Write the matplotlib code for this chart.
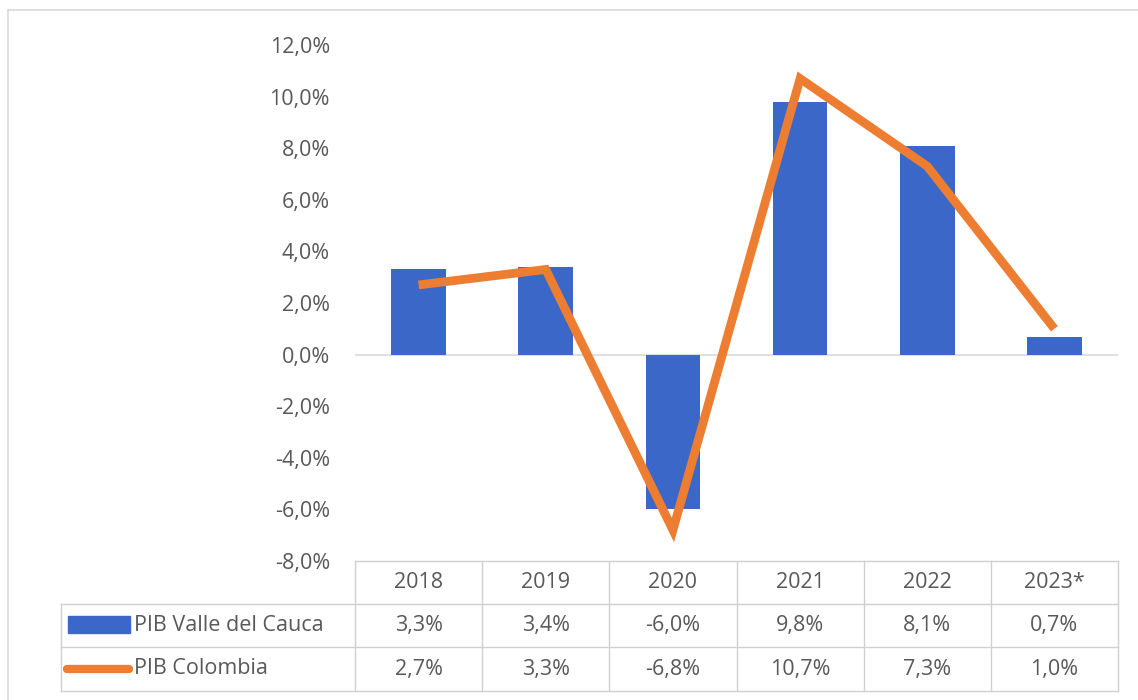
import matplotlib
matplotlib.use("Agg")
import matplotlib.pyplot as plt
import numpy as np
from matplotlib.lines import Line2D
from matplotlib.patches import Rectangle

years = ["2018", "2019", "2020", "2021", "2022", "2023*"]
valle = [3.3, 3.4, -6.0, 9.8, 8.1, 0.7]
colombia = [2.7, 3.3, -6.8, 10.7, 7.3, 1.0]
series_names = ["PIB Valle del Cauca", "PIB Colombia"]
yticks = [-8, -6, -4, -2, 0, 2, 4, 6, 8, 10, 12]

W, H = 1138, 700
fig = plt.figure(figsize=(W / 100, H / 100), dpi=100)
fig.patch.set_facecolor("white")

def fx(px):
    return px / W

def fy(py):
    return 1 - py / H

plt.rcParams['font.family'] = ['Open Sans', 'DejaVu Sans']
txt_color = "#595959"
grid_color = "#d9d9d9"
fs = 15.5

ax_left, ax_right, ax_top, ax_bottom = 355, 1118, 45, 561
ax = fig.add_axes([fx(ax_left), fy(ax_bottom), fx(ax_right - ax_left), (ax_bottom - ax_top) / H])
ax.set_xlim(-0.5, len(years) - 0.5)
ax.set_ylim(-8, 12)
x = np.arange(len(years))

bar_color = "#3b67c8"
bars = ax.bar(x, valle, width=0.43, color=bar_color, zorder=2)
ax.axhline(0, color=grid_color, lw=1.2, zorder=1)
ax.plot(x, colombia, color="#ed7d31", lw=6.3, solid_capstyle="butt", solid_joinstyle="miter", zorder=3)

for s in ax.spines.values():
    s.set_visible(False)
ax.set_xticks([])
ax.set_yticks(yticks)
ax.set_yticklabels([f"{v:.1f}%".replace(".", ",") for v in yticks], fontsize=fs, color=txt_color)
ax.tick_params(axis="y", length=0, pad=18)

# outer chart border
fig.add_artist(Line2D([fx(8), fx(1138)], [fy(10), fy(10)], color=grid_color, lw=1.2))
fig.add_artist(Line2D([fx(8), fx(8)], [fy(10), fy(700)], color=grid_color, lw=1.2))

# data table
col_w = (ax_right - ax_left) / len(years)
row_y = [561, 604, 647, 691]
tbl_left = 61
lc = "#d0d0d0"
fig.add_artist(Line2D([fx(ax_left), fx(ax_right)], [fy(row_y[0])] * 2, color=lc, lw=1))
for yy in row_y[1:]:
    fig.add_artist(Line2D([fx(tbl_left), fx(ax_right)], [fy(yy)] * 2, color=lc, lw=1))
for i in range(len(years) + 1):
    xx = ax_left + i * col_w
    fig.add_artist(Line2D([fx(xx)] * 2, [fy(row_y[0]), fy(row_y[3])], color=lc, lw=1))
fig.add_artist(Line2D([fx(tbl_left)] * 2, [fy(row_y[1]), fy(row_y[3])], color=lc, lw=1))

centers = [(row_y[i] + row_y[i + 1]) / 2 for i in range(3)]
for i, yr in enumerate(years):
    cx = ax_left + (i + 0.5) * col_w
    fig.text(fx(cx), fy(centers[0]), yr, ha="center", va="center", fontsize=fs, color=txt_color)
    fig.text(fx(cx), fy(centers[1]), f"{valle[i]:.1f}%".replace(".", ","), ha="center", va="center", fontsize=fs, color=txt_color)
    fig.text(fx(cx), fy(centers[2]), f"{colombia[i]:.1f}%".replace(".", ","), ha="center", va="center", fontsize=fs, color=txt_color)

# legend keys
fig.add_artist(Rectangle((fx(68), fy(633)), fx(130 - 68), (633 - 616) / H, color=bar_color))
fig.add_artist(Line2D([fx(67), fx(129)], [fy(669)] * 2, color="#ed7d31", lw=6.0, solid_capstyle="round"))
fig.text(fx(134), fy(centers[1]), series_names[0], ha="left", va="center", fontsize=fs, color=txt_color)
fig.text(fx(134), fy(centers[2]), series_names[1], ha="left", va="center", fontsize=fs, color=txt_color)

fig.savefig("out.png", dpi=100, facecolor="white")
